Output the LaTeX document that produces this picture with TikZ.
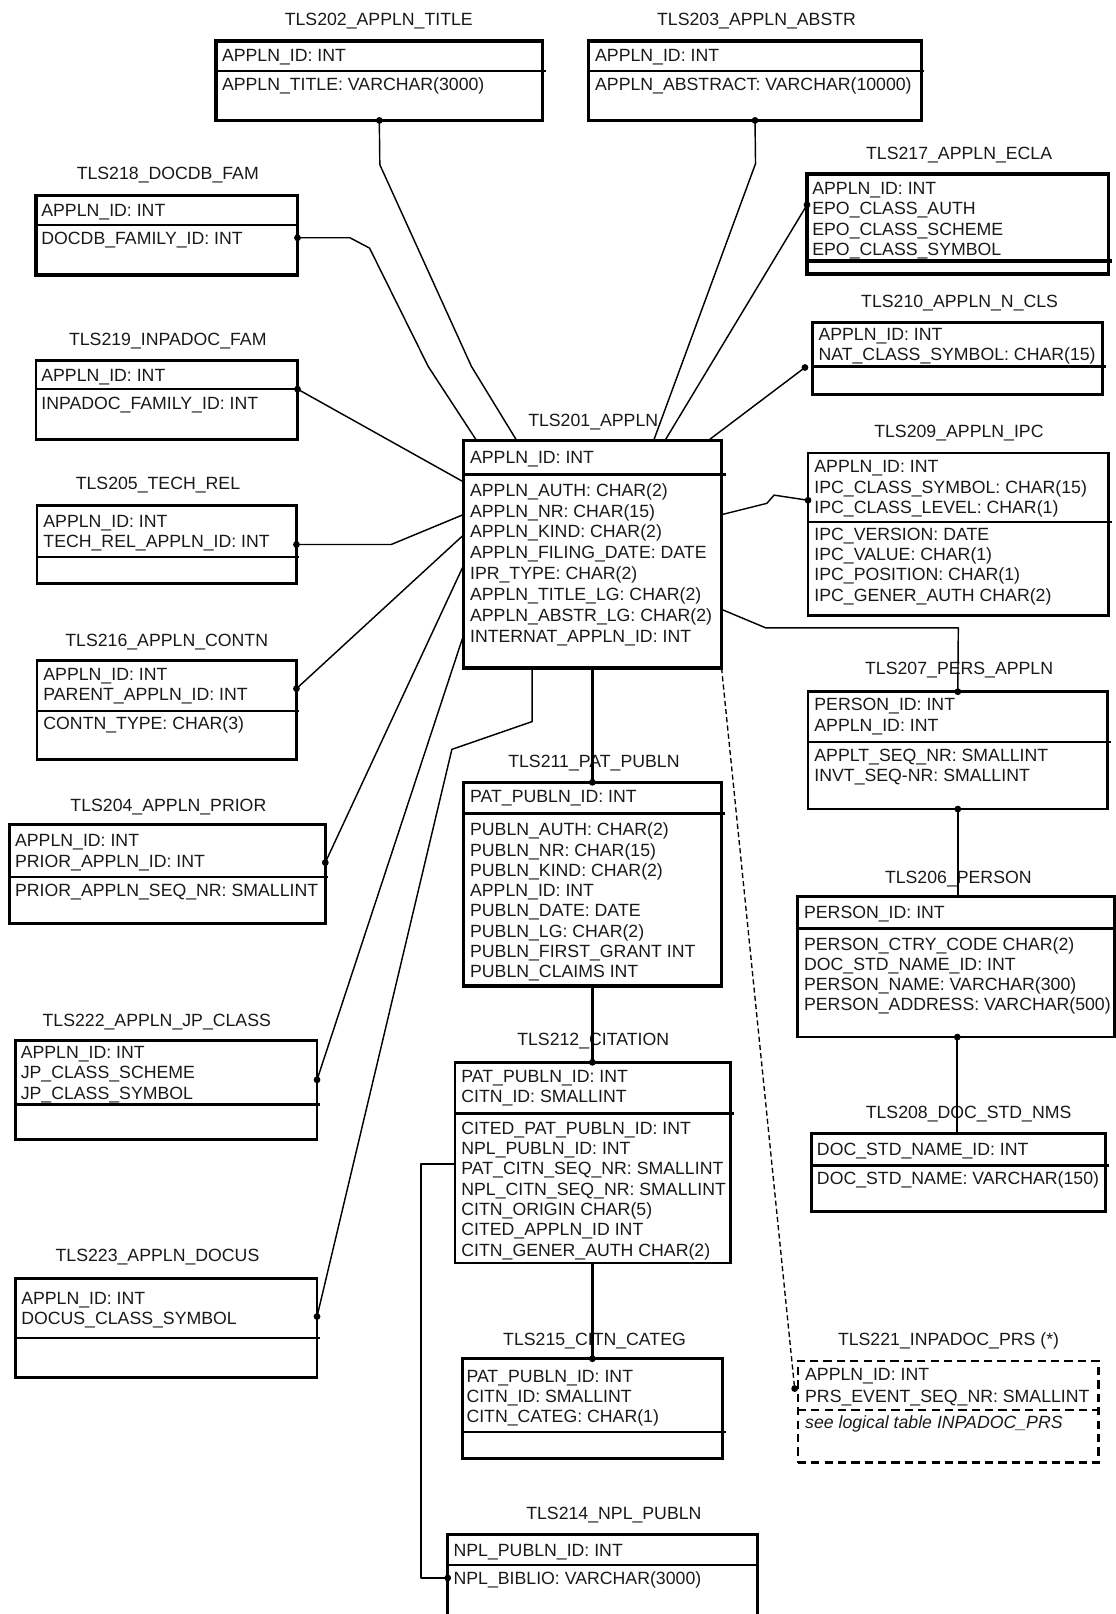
\documentclass[tikz,border=0pt]{standalone}
\usepackage{fontspec}
\setmainfont{Liberation Sans}
\usetikzlibrary{fit}
\newcommand\flds[5]{\foreach \fldtxt [count=\fldidx] in {#5} {\node[fld] (#1-\fldidx) at (#2,{#3+#4*(\fldidx-1)}) {\fldtxt};}}
\begin{document}
\begin{tikzpicture}[x=1pt,y=-1pt,
  fld/.style={anchor=base west,inner sep=0pt,text=black!90,font=\fontsize{17.2pt}{20pt}\selectfont},
  ttl/.style={anchor=base,inner sep=0pt,text=black!90,font=\fontsize{17.2pt}{20pt}\selectfont},
  tbl/.style={draw,line width=2.7pt,inner sep=0pt,outer sep=0pt},
  tblk/.style={tbl,line width=3.3pt},
  tbld/.style={tbl,line width=2.4pt,dash pattern=on 8pt off 5pt},
  divn/.style={line width=2pt},
  divk/.style={line width=3.2pt},
  divd/.style={line width=2pt,dash pattern=on 8pt off 5pt},
  link/.style={line width=1.4pt,line join=round},
  linkk/.style={line width=2.8pt},
  linkm/.style={line width=2pt,line join=round},
  linkd/.style={line width=1.3pt,dash pattern=on 5pt off 3pt},
  dotf/.style={fill=black}]
\useasboundingbox (0,0) rectangle (1084,1568);

% ---------- TLS202
\node[ttl] (t202t) at (368,25) {TLS202\_APPLN\_TITLE};
\node[tblk,fit={(210,40) (527,117)}] (t202) {};
\draw[divn] (210,69) -- (530,69);
\flds{t202a}{215.5}{60}{20}{APPLN\_ID: INT}
\flds{t202b}{215.5}{88}{20}{APPLN\_TITLE: VARCHAR(3000)}

% ---------- TLS203
\node[ttl] (t203t) at (735,25) {TLS203\_APPLN\_ABSTR};
\node[tblk,fit={(572,40) (895,117)}] (t203) {};
\draw[divn] (572,69) -- (898,69);
\flds{t203a}{578}{60}{20}{APPLN\_ID: INT}
\flds{t203b}{578}{88}{20}{APPLN\_ABSTRACT: VARCHAR(10000)}

% ---------- TLS218
\node[ttl] (t218t) at (163,174.5) {TLS218\_DOCDB\_FAM};
\node[tblk,fit={(35,190) (289,267)}] (t218) {};
\draw[divn] (35,219) -- (290,219);
\flds{t218a}{40}{210.5}{20}{APPLN\_ID: INT}
\flds{t218b}{40}{238}{20}{DOCDB\_FAMILY\_ID: INT}

% ---------- TLS219
\node[ttl] (t219t) at (163,335.5) {TLS219\_INPADOC\_FAM};
\node[tbl,fit={(35,350) (289,427)}] (t219) {};
\draw[divn] (35,378) -- (290,378);
\flds{t219a}{40}{370.3}{20}{APPLN\_ID: INT}
\flds{t219b}{40}{398}{20}{INPADOC\_FAMILY\_ID: INT}

% ---------- TLS205
\node[ttl] (t205t) at (153.5,475.5) {TLS205\_TECH\_REL};
\node[tbl,fit={(36,491) (288,567)}] (t205) {};
\draw[divn] (36,541) -- (290,541);
\flds{t205a}{42}{512.7}{19.5}{APPLN\_ID: INT,TECH\_REL\_APPLN\_ID: INT}

% ---------- TLS216
\node[ttl] (t216t) at (162,627.7) {TLS216\_APPLN\_CONTN};
\node[tbl,fit={(36,642) (288,738)}] (t216) {};
\draw[divn] (36,691) -- (290,691);
\flds{t216a}{42}{660.7}{19.7}{APPLN\_ID: INT,PARENT\_APPLN\_ID: INT}
\flds{t216b}{42}{708.6}{20}{CONTN\_TYPE: CHAR(3)}

% ---------- TLS204
\node[ttl] (t204t) at (163.6,788) {TLS204\_APPLN\_PRIOR};
\node[tbl,fit={(9,801) (316,897)}] (t204) {};
\draw[divn] (9,852) -- (319,852);
\flds{t204a}{14.5}{822.6}{19.7}{APPLN\_ID: INT,PRIOR\_APPLN\_ID: INT}
\flds{t204b}{14.5}{870.5}{20}{PRIOR\_APPLN\_SEQ\_NR: SMALLINT}

% ---------- TLS222
\node[ttl] (t222t) at (152.3,996.8) {TLS222\_APPLN\_JP\_CLASS};
\node[tbl,fit={(15,1011) (308,1107)}] (t222) {};
\draw[divn] (15,1073) -- (311,1073);
\flds{t222a}{20}{1028}{20}{APPLN\_ID: INT,JP\_CLASS\_SCHEME,JP\_CLASS\_SYMBOL}

% ---------- TLS223
\node[ttl] (t223t) at (153,1226) {TLS223\_APPLN\_DOCUS};
\node[tbl,fit={(15,1242) (308,1338)}] (t223) {};
\draw[divn] (15,1300) -- (311,1300);
\flds{t223a}{20.5}{1267}{20}{APPLN\_ID: INT,DOCUS\_CLASS\_SYMBOL}

% ---------- TLS201
\node[ttl] (t201t) at (576.3,414) {TLS201\_APPLN};
\node[tblk,fit={(450,428) (701,649)}] (t201) {};
\draw[divn] (450,461) -- (705,461);
\flds{t201a}{456.5}{450}{20}{APPLN\_ID: INT}
\flds{t201b}{456.5}{482}{20.3}{APPLN\_AUTH: CHAR(2),APPLN\_NR: CHAR(15),APPLN\_KIND: CHAR(2),APPLN\_FILING\_DATE: DATE,IPR\_TYPE: CHAR(2),APPLN\_TITLE\_LG: CHAR(2),APPLN\_ABSTR\_LG: CHAR(2),INTERNAT\_APPLN\_ID: INT}

% ---------- TLS211
\node[ttl] (t211t) at (577,746) {TLS211\_PAT\_PUBLN};
\node[tblk,fit={(450,760) (701,958)}] (t211) {};
\draw[divk] (450,790) -- (704,790);
\flds{t211a}{456.5}{780}{20}{PAT\_PUBLN\_ID: INT}
\flds{t211b}{456.5}{812}{19.7}{PUBLN\_AUTH: CHAR(2),PUBLN\_NR: CHAR(15),PUBLN\_KIND: CHAR(2),APPLN\_ID: INT,PUBLN\_DATE: DATE,PUBLN\_LG: CHAR(2),PUBLN\_FIRST\_GRANT INT,PUBLN\_CLAIMS INT}

% ---------- TLS212
\node[ttl] (t212t) at (576.3,1016) {TLS212\_CITATION};
\node[tbl,fit={(442,1032) (710,1227)}] (t212) {};
\draw[divk] (442,1082) -- (713,1082);
\flds{t212a}{448}{1052}{19.5}{PAT\_PUBLN\_ID: INT,CITN\_ID: SMALLINT}
\flds{t212b}{448}{1102}{19.7}{CITED\_PAT\_PUBLN\_ID: INT,NPL\_PUBLN\_ID: INT,PAT\_CITN\_SEQ\_NR: SMALLINT,NPL\_CITN\_SEQ\_NR: SMALLINT,CITN\_ORIGIN CHAR(5),CITED\_APPLN\_ID INT,CITN\_GENER\_AUTH CHAR(2)}

% ---------- TLS215
\node[ttl] (t215t) at (577.6,1307) {TLS215\_CITN\_CATEG};
\node[tbl,fit={(449,1320) (702,1417)}] (t215) {};
\draw[divn] (449,1391) -- (705,1391);
\flds{t215a}{453}{1342.6}{19.8}{PAT\_PUBLN\_ID: INT,CITN\_ID: SMALLINT,CITN\_CATEG: CHAR(1)}

% ---------- TLS214
\node[ttl] (t214t) at (596.4,1476) {TLS214\_NPL\_PUBLN};
\node[tbl,fit={(435,1491) (736,1576)}] (t214) {};
\draw[divn] (435,1520) -- (736,1520);
\flds{t214a}{440.5}{1512.6}{20}{NPL\_PUBLN\_ID: INT}
\flds{t214b}{440.5}{1539}{20}{NPL\_BIBLIO: VARCHAR(3000)}

% ---------- TLS217
\node[ttl] (t217t) at (931.8,155) {TLS217\_APPLN\_ECLA};
\node[tblk,fit={(784,169) (1077,266)}] (t217) {};
\draw[divk] (784,253.5) -- (1080,253.5);
\flds{t217a}{789}{189}{19.7}{APPLN\_ID: INT,EPO\_CLASS\_AUTH,EPO\_CLASS\_SCHEME,EPO\_CLASS\_SYMBOL}

% ---------- TLS210
\node[ttl] (t210t) at (932.3,299) {TLS210\_APPLN\_N\_CLS};
\node[tbl,fit={(789,313) (1071,383)}] (t210) {};
\draw[divk] (789,356) -- (1074,356);
\flds{t210a}{795}{330.7}{19.5}{APPLN\_ID: INT,NAT\_CLASS\_SYMBOL: CHAR(15)}

% ---------- TLS209
\node[ttl] (t209t) at (931.6,425) {TLS209\_APPLN\_IPC};
\node[tbl,fit={(785,440) (1077,598)}] (t209) {};
\draw[divn] (785,507) -- (1080,507);
\flds{t209a}{791}{459.3}{19.8}{APPLN\_ID: INT,IPC\_CLASS\_SYMBOL: CHAR(15),IPC\_CLASS\_LEVEL: CHAR(1)}
\flds{t209b}{791}{525}{19.7}{IPC\_VERSION: DATE,IPC\_VALUE: CHAR(1),IPC\_POSITION: CHAR(1),IPC\_GENER\_AUTH CHAR(2)}

% ---------- TLS207
\node[ttl] (t207t) at (931.8,655) {TLS207\_PERS\_APPLN};
\node[tbl,fit={(785,672) (1076,786)}] (t207) {};
\draw[divn] (785,720.5) -- (1079,720.5);
\flds{t207a}{791}{689.8}{20.4}{PERSON\_ID: INT,APPLN\_ID: INT}
\flds{t207b}{791}{739.4}{19.4}{APPLT\_SEQ\_NR: SMALLINT,INVT\_SEQ-NR: SMALLINT}

% ---------- TLS206
\node[ttl] (t206t) at (931,858) {TLS206\_PERSON};
\node[tbl,fit={(775,871) (1082.5,1007.5)}] (t206) {};
\draw[divn] (775,902) -- (1084,902);
\flds{t206a}{781}{892.5}{20}{PERSON\_ID: INT}
\flds{t206b}{781}{923}{19.5}{PERSON\_CTRY\_CODE CHAR(2),DOC\_STD\_NAME\_ID: INT,PERSON\_NAME: VARCHAR(300),PERSON\_ADDRESS: VARCHAR(500)}

% ---------- TLS208
\node[ttl] (t208t) at (941,1087) {TLS208\_DOC\_STD\_NMS};
\node[tbl,fit={(788,1101) (1074,1177)}] (t208) {};
\draw[divk] (788,1132) -- (1077,1132);
\flds{t208a}{793.5}{1122.4}{20}{DOC\_STD\_NAME\_ID: INT}
\flds{t208b}{793.5}{1150.6}{20}{DOC\_STD\_NAME: VARCHAR(150)}

% ---------- TLS221
\node[ttl] (t221t) at (921.5,1307.6) {TLS221\_INPADOC\_PRS (*)};
\node[tbld,fit={(775,1322) (1067,1421)}] (t221) {};
\draw[divd] (775,1370) -- (1067,1370);
\flds{t221a}{782}{1341.6}{21}{APPLN\_ID: INT,PRS\_EVENT\_SEQ\_NR: SMALLINT}
\node[fld,font=\fontsize{17.2pt}{20pt}\selectfont\itshape] (t221b) at (782,1388) {see logical table INPADOC\_PRS};

% ---------- connectors
\draw[link] (t202.south) -- (369,160) -- (458,356) -- (t201.north -| 502,0);
\fill[dotf] (t202.south) circle (3.3);
\draw[link] (t218.east |- 0,231) -- (340,231) -- (359,241) -- (416,356) -- (t201.north -| 463,0);
\fill[dotf] (t218.east |- 0,231) circle (3.3);
\draw[link] (t219.east |- 0,378) -- (t201.west |- 0,468);
\fill[dotf] (t219.east |- 0,378) circle (3.3);
\draw[link] (t205.east |- 0,529) -- (380,529) -- (t201.west |- 0,500);
\fill[dotf] (t205.east |- 0,529) circle (3.3);
\draw[link] (t216.east |- 0,669) -- (t201.west |- 0,520);
\fill[dotf] (t216.east |- 0,669) circle (3.3);
\draw[link] (t204.east |- 0,838) -- (t201.west |- 0,550);
\fill[dotf] (t204.east |- 0,838) circle (3.3);
\draw[link] (t222.east |- 0,1049) -- (t201.west |- 0,618);
\fill[dotf] (t222.east |- 0,1049) circle (3.3);
\draw[link] (t223.east |- 0,1279) -- (439,728) -- (517,701) -- (t201.south -| 517,0);
\fill[dotf] (t223.east |- 0,1279) circle (3.3);
\draw[link] (t203.south) -- (734,159) -- (t201.north -| 635,0);
\fill[dotf] (t203.south) circle (3.3);
\draw[link] (t217.west |- 0,199) -- (t201.north -| 646,0);
\fill[dotf] (t217.west |- 0,199) circle (3.3);
\coordinate (p210) at (782,357);
\draw[link] (p210) -- (t201.north -| 688,0);
\fill[dotf] (p210) circle (3.3);
\draw[link] (t201.east |- 0,500) -- (745,489) -- (752,481) -- (t209.west |- 0,486);
\fill[dotf] (t209.west |- 0,486) circle (3.3);
\draw[link] (t201.east |- 0,592) -- (744,610) -- (931,610) -- (t207.north);
\fill[dotf] (t207.north) circle (3.3);
\draw[linkm] (t207.south) -- (t207.south |- t206.north);
\fill[dotf] (t207.south) circle (3.3);
\draw[linkm] (t206.south -| 930,0) -- (t208.north -| 930,0);
\fill[dotf] (t206.south -| 930,0) circle (3.3);
\draw[linkk] (t201.south) -- (t211.north);
\fill[dotf] (t211.north) circle (3.3);
\draw[linkk] (t211.south) -- (t211.south |- t212.north);
\fill[dotf] (t211.south |- t212.north) circle (3.3);
\draw[linkk] (t212.south -| t211.south) -- (t215.north -| t211.south);
\fill[dotf] (t215.north -| t211.south) circle (3.3);
\draw[linkm] (t212.west |- 0,1131) -- (409,1131) -- (409,1533) -- (t214.west |- 0,1533);
\fill[dotf] (t214.west |- 0,1533) circle (3.3);
\draw[linkd] (t201.south east) -- (772,1349);
\fill[dotf] (772,1349) circle (3.3);
\end{tikzpicture}
\end{document}
